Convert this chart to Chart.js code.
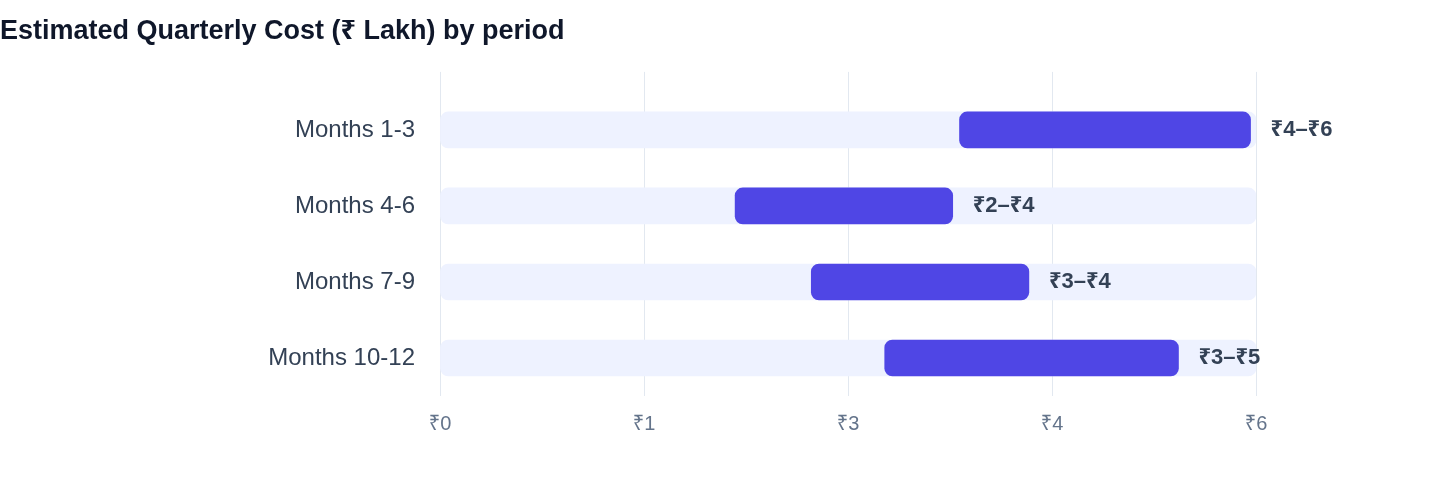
<!DOCTYPE html>
<html lang="en">
<head>
    <meta charset="UTF-8">
    <title>Estimated Quarterly Cost</title>
    <script src="https://cdn.jsdelivr.net/npm/chart.js"></script>
    <style>
        body {
            margin: 0;
            background-color: #fff;
        }
        .chart-container {
            position: relative;
            width: 1440px;
            height: 484px;
        }
    </style>
</head>
<body>
    <div class="chart-container">
        <canvas id="costChart"></canvas>
    </div>
    <script>
        // values, in ₹ lakh
        const periods = ['Months 1-3', 'Months 4-6', 'Months 7-9', 'Months 10-12'];
        const costLow = [3.82, 2.17, 2.73, 3.27];
        const costHigh = [5.96, 3.77, 4.33, 5.43];
        const rangeLabels = ['₹4–₹6', '₹2–₹4', '₹3–₹4', '₹3–₹5'];
        const tickLabels = ['₹0', '₹1', '₹3', '₹4', '₹6'];
        const axisMax = 6;

        const FONT = '"Liberation Sans", Arial, "Noto Sans", sans-serif';
        const GRID = '#e2e8f0';

        // draws the "₹x–₹y" text just past the end of each range bar
        const rangeLabelPlugin = {
            id: 'rangeLabels',
            afterDatasetsDraw(chart) {
                const meta = chart.getDatasetMeta(0);
                const ctx = chart.ctx;
                ctx.save();
                ctx.font = 'bold 22px ' + FONT;
                ctx.fillStyle = '#334155';
                ctx.textAlign = 'left';
                ctx.textBaseline = 'middle';
                meta.data.forEach((bar, i) => {
                    ctx.fillText(rangeLabels[i], bar.x + 20, bar.y);
                });
                ctx.restore();
            }
        };

        const ctx = document.getElementById('costChart').getContext('2d');
        new Chart(ctx, {
            type: 'bar',
            data: {
                labels: periods,
                datasets: [
                    {
                        label: 'Estimated cost',
                        data: periods.map((p, i) => [costLow[i], costHigh[i]]),
                        backgroundColor: '#4f46e5',
                        borderRadius: 8,
                        borderSkipped: false,
                        barThickness: 36,
                        grouped: false,
                        order: 0
                    },
                    {
                        label: 'Track',
                        data: periods.map(() => axisMax),
                        backgroundColor: '#eef2ff',
                        borderRadius: 8,
                        borderSkipped: false,
                        barThickness: 36,
                        grouped: false,
                        order: 1
                    }
                ]
            },
            options: {
                indexAxis: 'y',
                responsive: true,
                maintainAspectRatio: false,
                animation: false,
                layout: {
                    padding: { left: 0, right: 184, top: 0, bottom: 32 }
                },
                plugins: {
                    legend: { display: false },
                    tooltip: { enabled: false },
                    title: {
                        display: true,
                        text: 'Estimated Quarterly Cost (₹ Lakh) by period',
                        align: 'start',
                        color: '#0f172a',
                        font: { family: FONT, size: 27, weight: 'bold' },
                        padding: { top: 15.5, bottom: 24 }
                    }
                },
                scales: {
                    x: {
                        min: 0,
                        max: axisMax,
                        border: { display: false },
                        grid: { color: GRID, drawTicks: false },
                        ticks: {
                            stepSize: 1.5,
                            padding: 16,
                            maxRotation: 0,
                            color: '#64748b',
                            font: { family: FONT, size: 20 },
                            callback: (v, i) => tickLabels[i]
                        }
                    },
                    x2: {
                        position: 'top',
                        axis: 'x',
                        min: 0,
                        max: axisMax,
                        border: { display: false },
                        grid: { color: GRID, drawOnChartArea: false, drawTicks: true, tickLength: 20 },
                        ticks: { display: false, stepSize: 1.5 }
                    },
                    y: {
                        border: { display: false },
                        grid: { display: false, drawTicks: false },
                        ticks: {
                            padding: 25,
                            color: '#334155',
                            font: { family: FONT, size: 24 }
                        },
                        afterFit: (scale) => { scale.width = 440; }
                    }
                }
            },
            plugins: [rangeLabelPlugin]
        });
    </script>
</body>
</html>
